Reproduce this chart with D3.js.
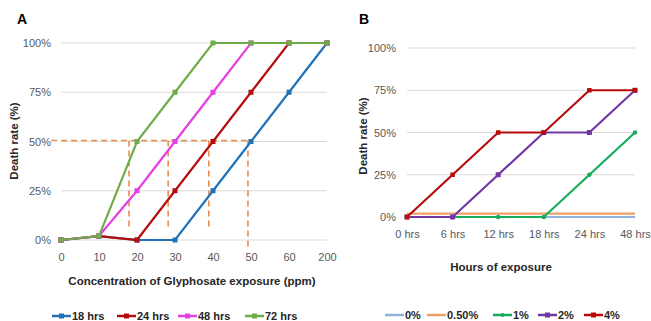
<!DOCTYPE html>
<html>
<head>
<meta charset="utf-8">
<script src="https://cdn.jsdelivr.net/npm/d3@7"></script>
<style>
  body { margin: 0; background: #fff; }
  svg { display: block; font-family: "Liberation Sans", Arial, sans-serif; }
  .tick text { fill: #595959; font-size: 11px; }
  .title { font-weight: bold; font-size: 11.5px; fill: #262626; }
  .legend text { font-weight: bold; font-size: 11px; fill: #262626; }
</style>
</head>
<body>
<svg id="chart" width="651" height="321"></svg>
<script>
'use strict';

// panel A - glyphosate concentration
var concLabels = ['0', '10', '20', '30', '40', '50', '60', '200'];
var hrs18 = [0, 2, 0, 0, 25, 50, 75, 100];
var hrs24 = [0, 2, 0, 25, 50, 75, 100, 100];
var hrs48 = [0, 2, 25, 50, 75, 100, 100, 100];
var hrs72 = [0, 2, 50, 75, 100, 100, 100, 100];
// LC50 guide lines (category index where drawn, lower end in %)
var lc50Pos = [1.79, 2.82, 3.89, 4.92];
var lc50Bottom = [6, 6, 6, -3.5];
var lc50Start = -0.26;

// panel B - hours of exposure
var hourLabels = ['0 hrs', '6 hrs', '12 hrs', '18 hrs', '24 hrs', '48 hrs'];
var pct0 = [0, 0, 0, 0, 0, 0];
var pct05 = [2, 2, 2, 2, 2, 2];
var pct1 = [0, 0, 0, 0, 25, 50];
var pct2 = [0, 0, 25, 50, 50, 75];
var pct4 = [0, 25, 50, 50, 75, 75];

var yTicks = [0, 25, 50, 75, 100];

var svg = d3.select('#chart');

function drawPanel(cfg) {
  var g = svg.append('g');
  var x = d3.scalePoint().domain(cfg.labels).range(cfg.xRange).padding(0);
  var y = d3.scaleLinear().domain([0, 100]).range(cfg.yRange);

  // gridlines
  g.append('g').selectAll('line').data(yTicks).enter().append('line')
    .attr('x1', cfg.xRange[0]).attr('x2', cfg.xRange[1])
    .attr('y1', function(d){ return y(d); }).attr('y2', function(d){ return y(d); })
    .attr('stroke', '#d9d9d9').attr('stroke-width', 1);

  var yAxis = g.append('g')
    .attr('transform', 'translate(' + (cfg.xRange[0] - cfg.yLabelGap) + ',0)')
    .call(d3.axisLeft(y).tickValues(yTicks).tickSize(0).tickFormat(function(d){ return d + '%'; }));
  yAxis.select('.domain').remove();
  yAxis.selectAll('text').attr('x', 0);

  var xAxis = g.append('g')
    .attr('transform', 'translate(0,' + (cfg.yRange[0] + cfg.xLabelGap) + ')')
    .call(d3.axisBottom(x).tickSize(0));
  xAxis.select('.domain').remove();

  g.append('text').attr('class', 'title')
    .attr('x', cfg.panelPos[0]).attr('y', cfg.panelPos[1])
    .style('font-size', '14px').style('fill', '#000')
    .text(cfg.panel);

  g.append('text').attr('class', 'title')
    .attr('text-anchor', 'middle')
    .attr('x', cfg.xTitlePos[0]).attr('y', cfg.xTitlePos[1])
    .text(cfg.xTitle);

  g.append('text').attr('class', 'title')
    .attr('text-anchor', 'middle')
    .attr('transform', 'translate(' + cfg.yTitlePos[0] + ',' + cfg.yTitlePos[1] + ') rotate(-90)')
    .text('Death rate (%)');

  if (cfg.extra) cfg.extra(g, x, y);

  var line = d3.line()
    .x(function(d, i){ return x(cfg.labels[i]); })
    .y(function(d){ return y(d); });

  cfg.series.forEach(function(s){
    g.append('path').datum(s.values)
      .attr('d', line).attr('fill', 'none')
      .attr('stroke', s.color).attr('stroke-width', 2.2);
    if (s.marker === 'square') {
      g.append('g').selectAll('rect').data(s.values).enter().append('rect')
        .attr('x', function(d, i){ return x(cfg.labels[i]) - s.size / 2; })
        .attr('y', function(d){ return y(d) - s.size / 2; })
        .attr('width', s.size).attr('height', s.size)
        .attr('fill', s.color);
    } else if (s.marker === 'circle') {
      g.append('g').selectAll('circle').data(s.values).enter().append('circle')
        .attr('cx', function(d, i){ return x(cfg.labels[i]); })
        .attr('cy', function(d){ return y(d); })
        .attr('r', s.size / 2)
        .attr('fill', s.color);
    }
  });

  // legend
  var lg = g.append('g').attr('class', 'legend');
  cfg.series.forEach(function(s, i){
    var lx = cfg.legendX[i];
    var ly = cfg.legendY;
    lg.append('line').attr('x1', lx).attr('x2', lx + 19)
      .attr('y1', ly - 4).attr('y2', ly - 4)
      .attr('stroke', s.color).attr('stroke-width', 2.5);
    if (s.marker === 'square') {
      lg.append('rect').attr('x', lx + 9.5 - 2.5).attr('y', ly - 6.5)
        .attr('width', 5).attr('height', 5).attr('fill', s.color);
    } else if (s.marker === 'circle') {
      lg.append('circle').attr('cx', lx + 9.5).attr('cy', ly - 4).attr('r', 2).attr('fill', s.color);
    }
    lg.append('text').attr('x', lx + 20).attr('y', ly).text(s.name);
  });
}

drawPanel({
  panel: 'A',
  panelPos: [17, 24],
  labels: concLabels,
  xRange: [61, 327],
  yRange: [240, 43],
  yLabelGap: 10,
  xLabelGap: 10,
  xTitle: 'Concentration of Glyphosate exposure (ppm)',
  xTitlePos: [192, 285],
  yTitlePos: [18, 141],
  legendX: [52, 117, 178, 245],
  legendY: 320,
  series: [
    { name: '18 hrs', values: hrs18, color: '#2172b8', marker: 'square', size: 5 },
    { name: '24 hrs', values: hrs24, color: '#b50d0d', marker: 'square', size: 5 },
    { name: '48 hrs', values: hrs48, color: '#e43ee4', marker: 'square', size: 5 },
    { name: '72 hrs', values: hrs72, color: '#6fab48', marker: 'square', size: 5 }
  ],
  extra: function(g, x, y) {
    var xi = d3.scaleLinear().domain([0, concLabels.length - 1]).range([61, 327]);
    var dash = g.append('g').attr('stroke', '#ec8c4a').attr('stroke-width', 1.6)
      .attr('stroke-dasharray', '6,4').attr('fill', 'none');
    dash.append('line')
      .attr('x1', xi(lc50Start)).attr('x2', xi(lc50Pos[lc50Pos.length - 1]))
      .attr('y1', y(50.5)).attr('y2', y(50.5));
    lc50Pos.forEach(function(p, i){
      dash.append('line')
        .attr('x1', xi(p)).attr('x2', xi(p))
        .attr('y1', y(50.5)).attr('y2', y(lc50Bottom[i]));
    });
  }
});

drawPanel({
  panel: 'B',
  panelPos: [359, 24],
  labels: hourLabels,
  xRange: [407, 635],
  yRange: [217, 48],
  yLabelGap: 11,
  xLabelGap: 10,
  xTitle: 'Hours of exposure',
  xTitlePos: [501, 271],
  yTitlePos: [367, 136],
  legendX: [385, 427, 493, 538, 584],
  legendY: 319,
  series: [
    { name: '0%', values: pct0, color: '#8fb3dc', marker: 'none' },
    { name: '0.50%', values: pct05, color: '#f0a066', marker: 'none' },
    { name: '1%', values: pct1, color: '#15ad5c', marker: 'circle', size: 4.5 },
    { name: '2%', values: pct2, color: '#7236a3', marker: 'square', size: 5 },
    { name: '4%', values: pct4, color: '#b80c0c', marker: 'square', size: 4.5 }
  ]
});
</script>
</body>
</html>
